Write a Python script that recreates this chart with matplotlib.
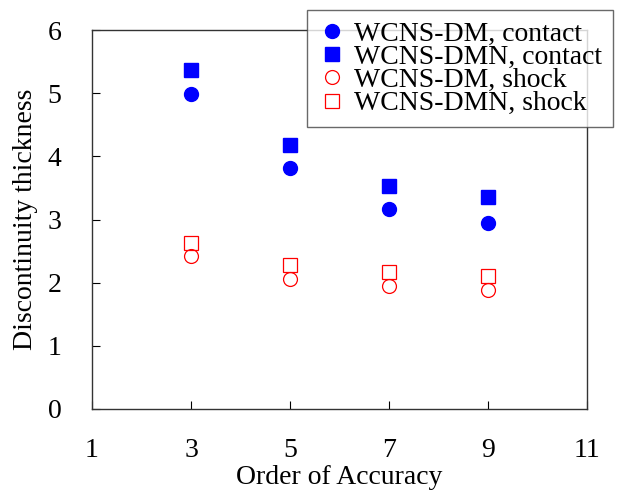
import matplotlib
matplotlib.use("Agg")
import matplotlib.pyplot as plt

plt.rcParams["font.family"] = ["Liberation Serif", "DejaVu Serif"]

# Order of accuracy
order = [3, 5, 7, 9]

# Discontinuity thickness
dm_contact = [4.98, 3.82, 3.17, 2.94]
dmn_contact = [5.36, 4.18, 3.53, 3.36]
dm_shock = [2.42, 2.06, 1.94, 1.89]
dmn_shock = [2.63, 2.28, 2.17, 2.11]

fig = plt.figure(figsize=(6.19, 4.93), dpi=100)
ax = fig.add_axes([92 / 619, 1 - 409 / 493, (587 - 92) / 619, (409 - 30) / 493])

ax.plot(order, dm_contact, "o", color="blue", markersize=10, label="WCNS-DM, contact")
ax.plot(order, dmn_contact, "s", color="blue", markersize=10, label="WCNS-DMN, contact")
ax.plot(order, dm_shock, "o", mfc="none", mec="red", mew=0.9, markersize=10,
        label="WCNS-DM, shock")
ax.plot(order, dmn_shock, "s", mfc="none", mec="red", mew=0.9, markersize=10,
        label="WCNS-DMN, shock")

ax.set_xlim(1, 11)
ax.set_ylim(0, 6)
ax.set_xticks([1, 3, 5, 7, 9, 11])
ax.set_yticks([0, 1, 2, 3, 4, 5, 6])
ax.tick_params(direction="in", length=6, width=0.8, labelsize=20)
ax.tick_params(axis="x", pad=21)
ax.tick_params(axis="y", pad=22)
for s in ax.spines.values():
    s.set_linewidth(1.0)
    s.set_color("#333333")

ax.set_xlabel("Order of Accuracy", fontsize=20, labelpad=1)
ax.set_ylabel("Discontinuity thickness", fontsize=20, labelpad=7)

leg = fig.legend(loc="upper left", bbox_to_anchor=(307 / 619, 1 - 10 / 493),
                 fontsize=20, frameon=True, fancybox=False, labelspacing=-0.08,
                 handlelength=1.0, handletextpad=0.3, borderpad=0.4,
                 borderaxespad=0)
leg.get_frame().set_edgecolor("#444444")
leg.get_frame().set_linewidth(1.0)

fig.savefig("out.png", dpi=100)
